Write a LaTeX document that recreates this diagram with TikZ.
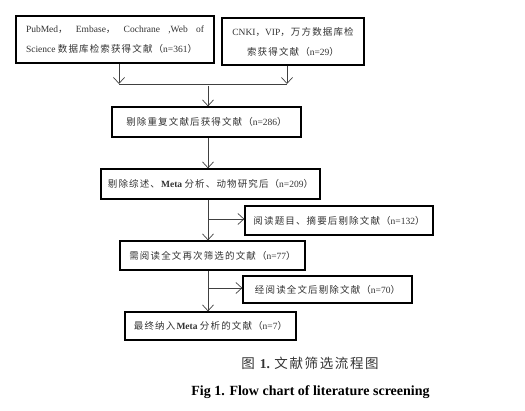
\documentclass[tikz,border=0pt]{standalone}
\usepackage{fontspec}
\setmainfont{Liberation Serif}
\newfontfamily\zhfont[LetterSpace=12]{Noto Sans CJK SC}
\newcommand{\zh}[1]{{\zhfont #1}}
\usetikzlibrary{arrows,arrows.meta}
\usetikzlibrary{positioning}

\begin{document}
\begin{tikzpicture}
	[x=1pt,y=-1pt,>={Straight Barb[length=6pt,width=11pt]},
	every node/.style={font=\fontsize{9.5}{20}\selectfont,text=black!80,inner sep=0pt},
	box/.style={draw=black,line width=1.2pt,minimum height=30pt},
	link/.style={draw=black!75,line width=0.7pt}]
	\useasboundingbox (0,0) rectangle (525,411);
	\node[box,minimum width=198pt,minimum height=47pt] (src1) at (115,39.5)
	{\begin{minipage}{178pt}\raggedright PubMed\zh{，}\hfill Embase\zh{，}\hfill Cochrane\hfill ,Web\hfill of\\ Science \zh{数据库检索获得文献（}n=361\zh{）}\end{minipage}};
	\node[box,minimum width=142pt,minimum height=47pt,align=center] (src2) at (293,41.5)
	{CNKI\zh{，}VIP\zh{，万方数据库检}\\ \zh{索获得文献（}n=29\zh{）}};
	\node[box,minimum width=189pt] (dedup) at (206.5,122) {\zh{剔除重复文献后获得文献（}n=286\zh{）}};
	\node[box,minimum width=219pt] (excl) at (210.5,184) {\zh{剔除综述、}\textbf{Meta} \zh{分析、动物研究后（}n=209\zh{）}};
	\node[box,minimum width=188pt,minimum height=29pt] (abs) at (339,220.5) {\zh{阅读题目、摘要后剔除文献（}n=132\zh{）}};
	\node[box,minimum width=185pt,minimum height=29pt] (full) at (212.5,255.5) {\zh{需阅读全文再次筛选的文献（}n=77\zh{）}};
	\node[box,minimum width=169pt,minimum height=27pt] (drop) at (327.5,289.5) {\zh{经阅读全文后剔除文献（}n=70\zh{）}};
	\node[box,minimum width=171pt,minimum height=28pt] (final) at (210.5,326) {\zh{最终纳入}\textbf{Meta} \zh{分析的文献（}n=7\zh{）}};
	\node[font=\fontsize{13.5}{15}\selectfont] (cap1) at (310,363) {\zh{图} \textbf{1.} \zh{文献筛选流程图}};
	\node[font=\bfseries\fontsize{14}{16}\selectfont,text=black] (cap2) at (310.5,392) {Fig 1. Flow chart of literature screening};

	\coordinate (m1) at (119,84);
	\coordinate (m2) at (287,84);
	\coordinate (m3) at (208,86);
	\coordinate (k1) at (208,219);
	\coordinate (k2) at (208,288);
	\draw[link,->] (src1.south -| m1) -- (m1);
	\draw[link,->] (src2.south -| m2) -- (m2);
	\draw[link] (m1) -- (m2);
	\draw[link,->] (m3) -- (dedup.north -| m3);
	\draw[link,->] (dedup.south -| m3) -- (excl.north -| m3);
	\draw[link,->] (excl.south -| k1) -- (full.north -| k1);
	\draw[link,->] (k1) -- (k1 -| abs.west);
	\draw[link,->] (full.south -| k2) -- (final.north -| k2);
	\draw[link,->] (k2) -- (k2 -| drop.west);
\end{tikzpicture}
\end{document}
